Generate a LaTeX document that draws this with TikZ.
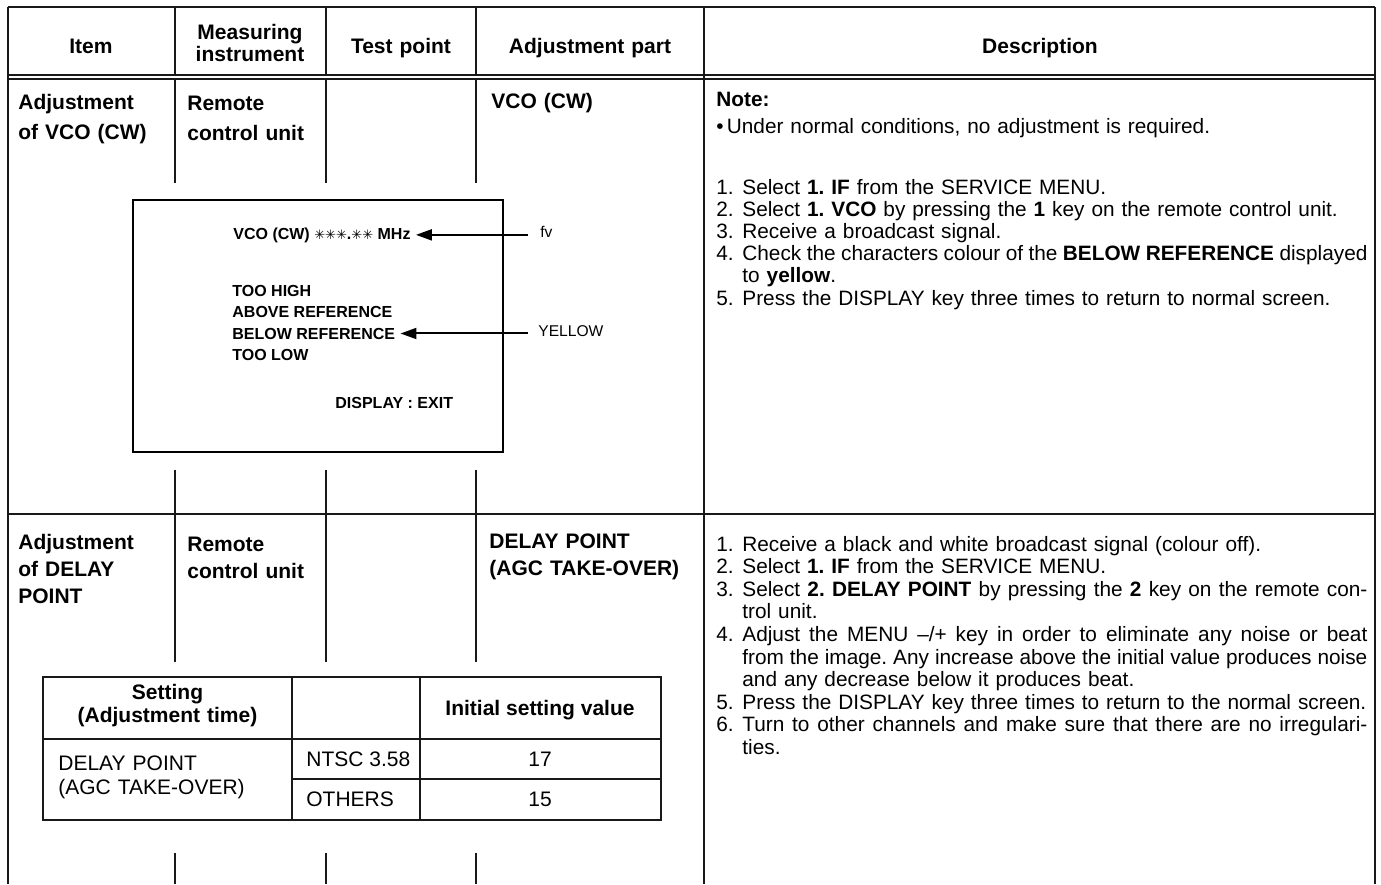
\documentclass[tikz,border=0pt]{standalone}
\usepackage{fontspec}
\setmainfont{Liberation Sans}
\newfontfamily\dvsfont{DejaVu Sans}
\usetikzlibrary{arrows.meta}

\newlength\jw \setlength\jw{312.5pt}
\newcommand\nb[1]{\makebox[13pt][l]{#1}}
\newcommand\jline[1]{{\spaceskip=0.278em plus 0.3em minus 0.11em\makebox[\jw][s]{#1}}}
\newcommand\ind{\hspace*{13pt}}
\newcommand\scrast{{\dvsfont\fontsize{6.5}{6.5}\selectfont ✳}}

\begin{document}
\frenchspacing
\begin{tikzpicture}[x=0.5pt,y=-0.5pt,
  rule/.style={line width=0.6pt, black!90},
  screenbox/.style={line width=1.1pt, black},
  arr/.style={line width=1pt, -{Triangle[length=8pt,width=5.5pt]}},
  hdr/.style={font=\fontsize{10.5}{11}\selectfont\bfseries, align=center, anchor=base, inner sep=0pt},
  cellA/.style={font=\fontsize{10.5}{15}\selectfont\bfseries, text width=140pt, align=left, anchor=base west, inner sep=0pt},
  cellB/.style={font=\fontsize{10.5}{13.5}\selectfont\bfseries, text width=140pt, align=left, anchor=base west, inner sep=0pt},
  desc/.style={font=\fontsize{10.4}{11.1}\selectfont, text width=330pt, align=left, anchor=base west, inner sep=0pt},
  scr/.style={font=\fontsize{8}{9}\selectfont\bfseries, anchor=base west, inner sep=0pt},
  lbl/.style={font=\fontsize{7.8}{9}\selectfont, anchor=base west, inner sep=0pt},
  tb/.style={font=\fontsize{10.5}{11.5}\selectfont\bfseries, align=center, anchor=base, inner sep=0pt},
  tr/.style={font=\fontsize{10.5}{12}\selectfont, anchor=base west, inner sep=0pt}
]
\useasboundingbox (0,0) rectangle (1381,884);

% ---------- frame ----------
\draw[rule] (8,7) -- (1375,7);
\draw[rule] (8,7) -- (8,884);
\draw[rule] (1375,7) -- (1375,884);
\draw[rule] (704,7) -- (704,884);
\draw[rule] (8,75) -- (1375,75);
\draw[rule] (8,79) -- (1375,79);
\draw[rule] (8,514) -- (1375,514);
\foreach \cx in {175,326,476}{
  \draw[rule] (\cx,7) -- (\cx,75);
  \draw[rule] (\cx,79) -- (\cx,183);
  \draw[rule] (\cx,470) -- (\cx,514);
  \draw[rule] (\cx,514) -- (\cx,662);
  \draw[rule] (\cx,853) -- (\cx,884);
}

% ---------- header ----------
\node[hdr, text width=80pt] (hItem) at (91,53) {Item};
\node[hdr, text width=75pt] (hMeas) at (250,39) {Measuring\\instrument};
\node[hdr, text width=75pt] (hTest) at (401,53) {Test point};
\node[hdr, text width=110pt] (hAdj) at (590,53) {Adjustment part};
\node[hdr, text width=300pt] (hDesc) at (1040,53) {Description};

% ---------- row 1 ----------
\node[cellA] (i1) at (18,109) {Adjustment\\of VCO (CW)};
\node[cellA] (m1) at (187,110) {Remote\\control unit};
\node[cellA] (a1) at (491,108) {VCO (CW)};

\node[desc, font=\fontsize{10.4}{13.5}\selectfont] (note) at (716,106)
  {\textbf{Note:}\\\textbullet\hspace{1.6pt}Under normal conditions, no adjustment is required.};
\node[desc] (s1) at (716,194) {%
\nb{1.}Select \textbf{1. IF} from the SERVICE MENU.\\
\nb{2.}Select \textbf{1. VCO} by pressing the \textbf{1} key on the remote control unit.\\
\nb{3.}Receive a broadcast signal.\\
\nb{4.}\jline{Check the characters colour of the \textbf{BELOW REFERENCE} displayed}\\
\ind to \textbf{yellow}.\\
\nb{5.}Press the DISPLAY key three times to return to normal screen.};

% screen
\draw[screenbox] (133,200) rectangle (503,452);
\node[scr] (vco) at (233,239) {VCO (CW) \scrast\scrast\scrast.\scrast\scrast{} MHz};
\node[scr] (th) at (232,296) {TOO HIGH};
\node[scr] (ab) at (232,317) {ABOVE REFERENCE};
\node[scr] (br) at (232,339) {BELOW REFERENCE};
\node[scr] (tl) at (232,360) {TOO LOW};
\node[scr] (de) at (335,408) {DISPLAY : EXIT};
\node[lbl] (fv) at (540,237) {fv};
\node[lbl] (yel) at (538,336) {YELLOW};
\draw[arr, shorten <=6pt, shorten >=2.5pt] (vco.east -| fv.west) -- (vco.east);
\draw[arr, shorten <=5pt, shorten >=2.5pt] (br.east -| yel.west) -- (br.east);

% ---------- row 2 ----------
\node[cellB] (i2) at (18,549) {Adjustment\\of DELAY\\POINT};
\node[cellB] (m2) at (187,551) {Remote\\control unit};
\node[cellB] (a2) at (489,548) {DELAY POINT\\(AGC TAKE-OVER)};

\node[desc, font=\fontsize{10.4}{11.3}\selectfont] (s2) at (716,551) {%
\nb{1.}Receive a black and white broadcast signal (colour off).\\
\nb{2.}Select \textbf{1. IF} from the SERVICE MENU.\\
\nb{3.}\jline{Select \textbf{2. DELAY POINT} by pressing the \textbf{2} key on the remote con-}\\
\ind trol unit.\\
\nb{4.}\jline{Adjust the MENU –/+ key in order to eliminate any noise or beat}\\
\ind\jline{from the image. Any increase above the initial value produces noise}\\
\ind and any decrease below it produces beat.\\
\nb{5.}Press the DISPLAY key three times to return to the normal screen.\\
\nb{6.}\jline{Turn to other channels and make sure that there are no irregulari-}\\
\ind ties.};

% inner table
\draw[rule] (43,677) rectangle (661,820);
\draw[rule] (43,739) -- (661,739);
\draw[rule] (292,677) -- (292,820);
\draw[rule] (420,677) -- (420,820);
\draw[rule] (292,779) -- (661,779);
\node[tb, text width=120pt] (tset) at (167.5,699) {Setting\\(Adjustment time)};
\node[tb] (tinit) at (540,715) {Initial setting value};
\node[tr, text width=115pt, align=left] (tdp) at (58,770) {DELAY POINT\\(AGC TAKE-OVER)};
\node[tr] (tntsc) at (306,766) {NTSC 3.58};
\node[tr] (toth) at (306,806) {OTHERS};
\node[tr, anchor=base] (t17) at (540,766) {17};
\node[tr, anchor=base] (t15) at (540,806) {15};
\end{tikzpicture}
\end{document}
